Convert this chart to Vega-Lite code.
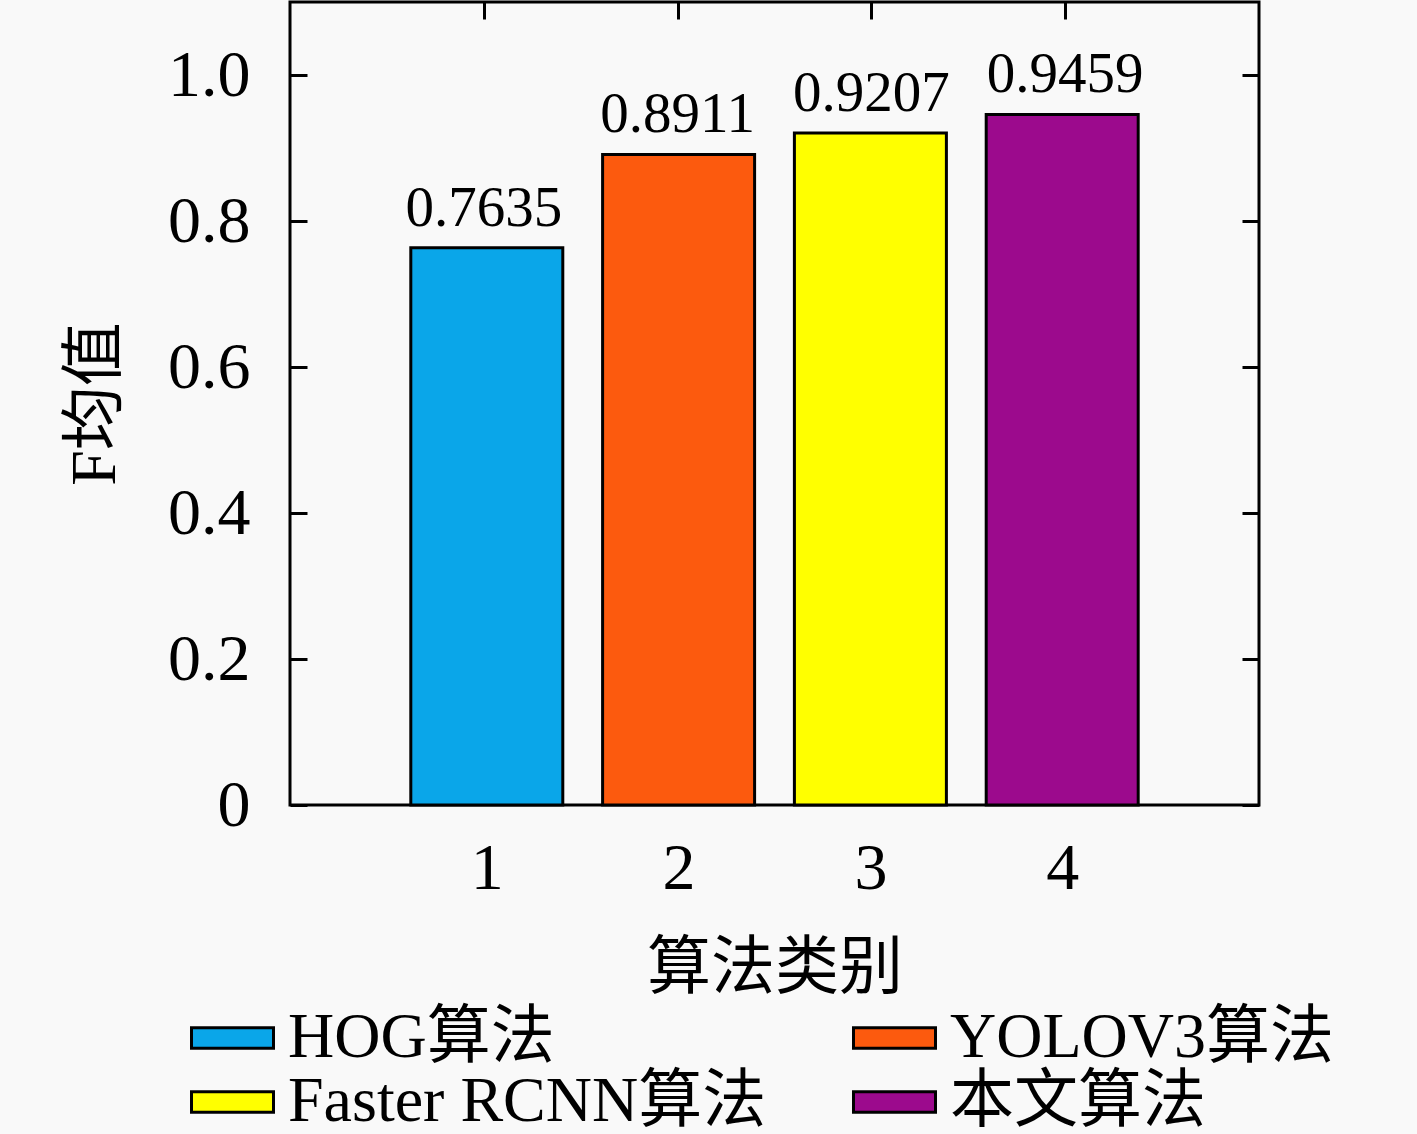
{
  "$schema": "https://vega.github.io/schema/vega-lite/v6.json",
  "width": 969,
  "height": 803,
  "autosize": {"type": "none"},
  "padding": {"left": 290, "top": 2, "right": 158, "bottom": 329},
  "background": "#f9f9f9",
  "config": {
    "font": "Liberation Serif, Noto Sans CJK SC",
    "view": {"stroke": "#000000", "strokeWidth": 3},
    "axis": {
      "domain": false,
      "grid": false,
      "tickColor": "#000000",
      "tickWidth": 3,
      "tickSize": -17,
      "labelColor": "#000000",
      "titleColor": "#000000",
      "labelFont": "Liberation Serif",
      "labelFontSize": 66,
      "titleFont": "Liberation Serif, Noto Sans CJK SC",
      "titleFontSize": 64,
      "titleFontWeight": "normal"
    },
    "legend": {
      "labelFont": "Liberation Serif, Noto Sans CJK SC",
      "labelFontSize": 64,
      "labelColor": "#000000",
      "labelLimit": 0
    }
  },
  "data": {
    "values": [
      {"idx": 1, "algo": "HOG算法", "F": 0.7635},
      {"idx": 2, "algo": "YOLOV3算法", "F": 0.8911},
      {"idx": 3, "algo": "Faster RCNN算法", "F": 0.9207},
      {"idx": 4, "algo": "本文算法", "F": 0.9459}
    ]
  },
  "layer": [
    {
      "mark": {"type": "bar", "width": 152, "stroke": "#000000", "strokeWidth": 3},
      "encoding": {
        "x": {
          "field": "idx",
          "type": "quantitative",
          "scale": {"domain": [0, 5]},
          "axis": {"values": [1, 2, 3, 4], "title": "算法类别", "labelPadding": 48, "titlePadding": 35}
        },
        "y": {
          "field": "F",
          "type": "quantitative",
          "scale": {"domain": [0, 1.1]},
          "axis": {
            "values": [0, 0.2, 0.4, 0.6, 0.8, 1.0],
            "labelExpr": "datum.value == 0 ? '0' : format(datum.value, '.1f')",
            "title": "F均值",
            "labelPadding": 57,
            "titlePadding": 40
          }
        },
        "color": {
          "field": "algo",
          "type": "nominal",
          "scale": {
            "domain": ["HOG算法", "YOLOV3算法", "Faster RCNN算法", "本文算法"],
            "range": ["#0aa6e9", "#fc5a0e", "#ffff00", "#9c0a8d"]
          },
          "legend": {
            "title": null,
            "orient": "none",
            "direction": "horizontal",
            "legendX": -89.5,
            "legendY": 1004,
            "columns": 2,
            "columnPadding": 81,
            "rowPadding": 0,
            "symbolType": "M-2,-0.5H2V0.5H-2Z",
            "symbolSize": 1681,
            "symbolStrokeColor": "#000000",
            "symbolStrokeWidth": 3,
            "labelOffset": 23.5,
            "padding": 0
          }
        }
      }
    },
    {
      "mark": {"type": "text", "baseline": "alphabetic", "dy": -22, "fontSize": 57, "font": "Liberation Serif", "color": "#000000"},
      "encoding": {
        "x": {"field": "idx", "type": "quantitative", "scale": {"domain": [0, 5]}, "axis": null},
        "y": {"field": "F", "type": "quantitative", "scale": {"domain": [0, 1.1]}, "axis": null},
        "text": {"field": "F", "type": "quantitative", "format": ".4f"}
      }
    },
    {
      "mark": {"type": "point", "opacity": 0},
      "encoding": {
        "x": {
          "field": "idx",
          "type": "quantitative",
          "scale": {"domain": [0, 5]},
          "axis": {"orient": "top", "values": [1, 2, 3, 4], "labels": false, "title": null}
        },
        "y": {
          "field": "F",
          "type": "quantitative",
          "scale": {"domain": [0, 1.1]},
          "axis": {"orient": "right", "values": [0, 0.2, 0.4, 0.6, 0.8, 1.0], "labels": false, "title": null}
        }
      }
    }
  ],
  "resolve": {
    "scale": {"x": "independent", "y": "independent"},
    "axis": {"x": "independent", "y": "independent"}
  }
}
